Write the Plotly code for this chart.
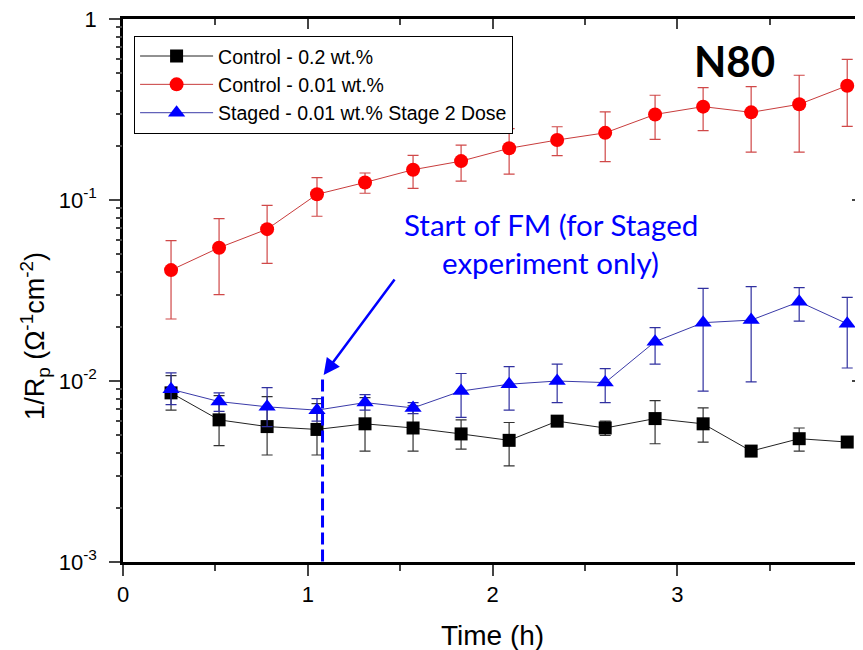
import plotly.graph_objects as go
import math

# ---- data ----
time_h = [0.26, 0.52, 0.78, 1.05, 1.31, 1.57, 1.83, 2.09, 2.35, 2.61, 2.88, 3.14, 3.40, 3.66, 3.92]

ctrl02_val   = [0.0086, 0.0061, 0.0056, 0.0054, 0.0058, 0.0055, 0.0051, 0.0047, 0.0060, 0.0055, 0.0062, 0.0058, 0.0041, 0.0048, 0.0046]
ctrl02_upper = [0.0107, 0.0083, 0.0082, 0.0075, 0.0081, 0.0073, 0.0061, 0.0059, 0.0063, 0.0060, 0.0078, 0.0071, 0.0043, 0.0055, 0.0048]
ctrl02_lower = [0.0069, 0.0044, 0.0039, 0.0039, 0.0041, 0.0041, 0.0042, 0.0034, 0.0057, 0.0050, 0.0045, 0.0046, 0.0039, 0.0041, 0.0044]

ctrl001_val   = [0.041, 0.0545, 0.069, 0.1075, 0.125, 0.147, 0.164, 0.193, 0.2145, 0.235, 0.297, 0.328, 0.305, 0.338, 0.428]
ctrl001_upper = [0.0596, 0.079, 0.0935, 0.133, 0.141, 0.1766, 0.201, 0.248, 0.254, 0.307, 0.379, 0.4175, 0.4226, 0.489, 0.599]
ctrl001_lower = [0.022, 0.030, 0.0447, 0.0813, 0.109, 0.116, 0.127, 0.139, 0.176, 0.163, 0.216, 0.2414, 0.184, 0.184, 0.255]

staged_val   = [0.0090, 0.0077, 0.0072, 0.0069, 0.0076, 0.0071, 0.0088, 0.0096, 0.0100, 0.0098, 0.0165, 0.0210, 0.0217, 0.0274, 0.0207]
staged_upper = [0.0111, 0.0086, 0.0092, 0.0080, 0.0084, 0.0076, 0.0110, 0.0120, 0.0124, 0.0117, 0.0197, 0.0325, 0.0332, 0.0328, 0.0290]
staged_lower = [0.0074, 0.0068, 0.0056, 0.0060, 0.0069, 0.0066, 0.0063, 0.0069, 0.0076, 0.0076, 0.0124, 0.0088, 0.0099, 0.0214, 0.0118]

series_names = ["Control - 0.2 wt.%", "Control - 0.01 wt.%", "Staged - 0.01 wt.% Stage 2 Dose"]

fm_start_h = 1.08
fm_line_top = 0.0102
arrow_tail = (1.476, 0.0371)
arrow_head = (1.086, 0.0108)

y_tickvals = [0.001, 0.01, 0.1, 1]
y_ticktext = ["10<sup>-3</sup>", "10<sup>-2</sup>", "10<sup>-1</sup>", "1"]
y_minor = [m * 10**e for e in (-3, -2, -1) for m in range(2, 10)]

FONT = "Liberation Sans, Arial, sans-serif"

fig = go.Figure()

def add_series(name, vals, up, lo, mcolor, lcolor, ecolor, symbol, size):
    fig.add_trace(go.Scatter(
        x=time_h, y=vals, name=name, mode="lines+markers",
        line=dict(color=lcolor, width=1),
        marker=dict(symbol=symbol, size=size, color=mcolor, line=dict(width=0)),
        error_y=dict(type="data", symmetric=False,
                     array=[u - v for u, v in zip(up, vals)],
                     arrayminus=[v - l for v, l in zip(vals, lo)],
                     color=ecolor, thickness=1.2, width=5.5),
    ))

add_series(series_names[0], ctrl02_val, ctrl02_upper, ctrl02_lower, "#000000", "#222222", "#333333", "square", 13)
add_series(series_names[1], ctrl001_val, ctrl001_upper, ctrl001_lower, "#ff0000", "#c83c3c", "#d04848", "circle", 14)
add_series(series_names[2], staged_val, staged_upper, staged_lower, "#0000ff", "#3a3aa8", "#3030a0", "triangle-up", 15)

fig.add_trace(go.Scatter(
    x=[fm_start_h, fm_start_h], y=[fm_line_top, 0.001], mode="lines",
    line=dict(color="#0000ff", width=3, dash="12px,5px"), showlegend=False, hoverinfo="skip"))

# empty helper traces so the frame/tick overlay axes get drawn
for xa, ya in (("x2", "y"), ("x", "y2"), ("x", "y3"), ("x", "y4")):
    fig.add_trace(go.Scatter(x=[None], y=[None], xaxis=xa, yaxis=ya, mode="markers",
                             showlegend=False, hoverinfo="skip"))

fig.add_annotation(x=arrow_head[0], y=math.log10(arrow_head[1]),
                   ax=arrow_tail[0], ay=math.log10(arrow_tail[1]),
                   xref="x", yref="y", axref="x", ayref="y", text="",
                   showarrow=True, arrowhead=2, arrowsize=1.3, arrowwidth=2.5, arrowcolor="#0000ff")

fig.add_annotation(x=0.579, y=0.622, xref="paper", yref="paper", xanchor="center", yanchor="middle",
                   text="Start of FM (for Staged",
                   showarrow=False, font=dict(family="Lato", size=29.5, color="#0000ff"))
fig.add_annotation(x=0.579, y=0.551, xref="paper", yref="paper", xanchor="center", yanchor="middle",
                   text="experiment only)",
                   showarrow=False, font=dict(family="Lato", size=29.5, color="#0000ff"))
fig.add_annotation(x=0.828, y=0.923, xref="paper", yref="paper", xanchor="center", yanchor="middle",
                   text="<b>N80</b>",
                   showarrow=False, font=dict(family="Lato", size=42, color="#000000"))

# axis titles
fig.add_annotation(x=0.4996, y=-0.136, xref="paper", yref="paper", xanchor="center", yanchor="middle",
                   text="Time (h)", showarrow=False, font=dict(family=FONT, size=28, color="black"))
fig.add_annotation(x=-0.12, y=0.417, xref="paper", yref="paper", xanchor="center", yanchor="middle",
                   text="1/R<sub>p</sub> (Ω<sup>-1</sup>cm<sup>-2</sup>)", textangle=-90,
                   showarrow=False, font=dict(family=FONT, size=27, color="black"))

axis_common = dict(showgrid=False, zeroline=False, linecolor="black", linewidth=2.5, automargin=False)

# page body adds 8px offset; compensate so plot area sits at x 123..862, y 19..562
fig.update_layout(
    width=855, height=642,
    margin=dict(l=115, r=1, t=11, b=88, autoexpand=False),
    paper_bgcolor="white", plot_bgcolor="white",
    font=dict(family=FONT, color="black"),
    showlegend=True,
    legend=dict(x=0.015, y=0.969, xanchor="left", yanchor="top",
                bordercolor="black", borderwidth=1, bgcolor="white",
                font=dict(family=FONT, size=19.5), itemwidth=73, tracegroupgap=0,
                entrywidth=320, entrywidthmode="pixels"),
    xaxis=dict(range=[0, 4], dtick=1, tick0=0, ticks="outside", ticklen=11, tickwidth=2,
               tickfont=dict(size=22), ticklabeloverflow="allow",
               minor=dict(dtick=0.5, tick0=0, ticks="outside", ticklen=6, tickwidth=2),
               **axis_common),
    yaxis=dict(type="log", range=[-3, 0], tickmode="array", tickvals=y_tickvals, ticktext=y_ticktext,
               ticks="outside", ticklen=11, tickwidth=2, tickfont=dict(size=22), ticklabelstandoff=8,
               ticklabeloverflow="allow", **axis_common),
    xaxis2=dict(range=[0, 4], overlaying="x", side="top", anchor="y", dtick=1, tick0=0,
                ticks="inside", ticklen=10, tickwidth=2, showticklabels=False,
                minor=dict(dtick=0.5, tick0=0, ticks="inside", ticklen=6, tickwidth=2),
                **axis_common),
    yaxis2=dict(type="log", range=[-3, 0], overlaying="y", side="right", anchor="x",
                tickmode="array", tickvals=y_tickvals, ticks="inside", ticklen=10, tickwidth=2,
                showticklabels=False, **axis_common),
    yaxis3=dict(type="log", range=[-3, 0], overlaying="y", side="left", anchor="x",
                tickmode="array", tickvals=y_minor, ticks="outside", ticklen=6, tickwidth=2,
                showticklabels=False, showgrid=False, zeroline=False, showline=False, automargin=False),
    yaxis4=dict(type="log", range=[-3, 0], overlaying="y", side="right", anchor="x",
                tickmode="array", tickvals=y_minor, ticks="inside", ticklen=6, tickwidth=2,
                showticklabels=False, showgrid=False, zeroline=False, showline=False, automargin=False),
)

fig.write_html("out.html")
